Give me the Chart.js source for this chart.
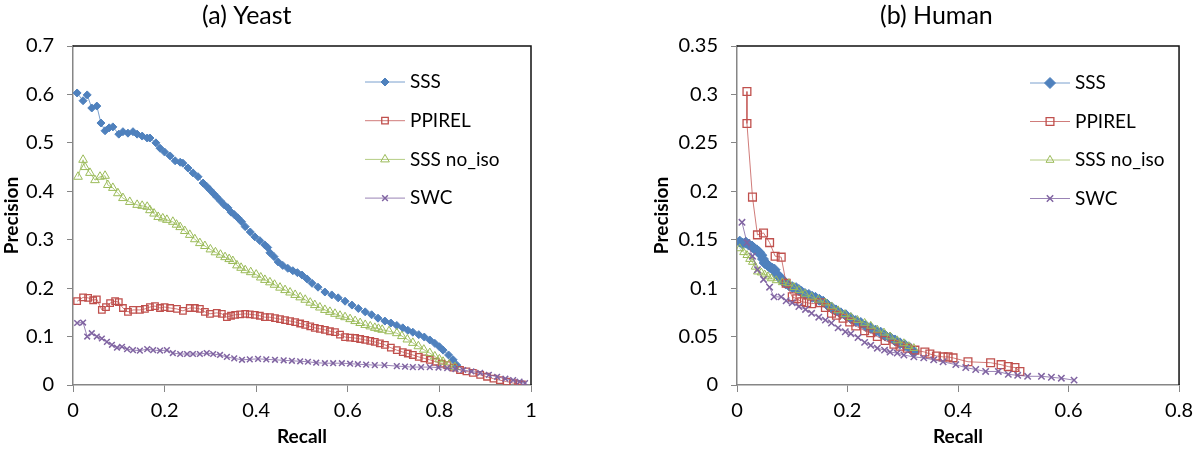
<!DOCTYPE html>
<html>
<head>
<meta charset="utf-8">
<script src="https://cdn.jsdelivr.net/npm/chart.js@4.4.1/dist/chart.umd.min.js"></script>
<style>
  html, body { margin: 0; padding: 0; background: #fff; }
  #wrap { position: relative; width: 1200px; height: 452px; }
  canvas { position: absolute; top: 0; }
</style>
</head>
<body>
<div id="wrap">
  <canvas id="yeastChart" width="600" height="452" style="left:0"></canvas>
  <canvas id="humanChart" width="600" height="452" style="left:600px"></canvas>
</div>
<script>
// ---- (a) Yeast ----
const yeastSSSRecall = [0.009,0.022,0.031,0.041,0.052,0.061,0.070,0.079,0.087,0.100,0.109,0.120,0.131,0.140,0.151,0.162,0.168,0.181,0.190,0.200,0.212,0.223,0.234,0.240,0.251,0.262,0.273,0.284,0.292,0.299,0.307,0.314,0.322,0.330,0.338,0.345,0.352,0.360,0.368,0.376,0.387,0.397,0.408,0.419,0.425,0.430,0.439,0.448,0.458,0.469,0.480,0.490,0.500,0.511,0.522,0.535,0.550,0.565,0.579,0.594,0.609,0.623,0.638,0.652,0.666,0.681,0.694,0.707,0.720,0.731,0.742,0.755,0.767,0.779,0.790,0.800,0.808,0.820,0.830,0.838];
const yeastSSSPrec   = [0.603,0.587,0.599,0.572,0.576,0.541,0.525,0.531,0.533,0.518,0.523,0.520,0.523,0.518,0.514,0.510,0.510,0.500,0.489,0.481,0.473,0.463,0.460,0.458,0.448,0.438,0.430,0.417,0.410,0.403,0.395,0.388,0.380,0.372,0.366,0.357,0.352,0.345,0.337,0.327,0.316,0.306,0.298,0.289,0.284,0.273,0.265,0.254,0.247,0.241,0.236,0.232,0.227,0.219,0.210,0.202,0.192,0.186,0.180,0.173,0.165,0.158,0.151,0.145,0.138,0.132,0.128,0.123,0.118,0.113,0.109,0.104,0.099,0.093,0.086,0.079,0.072,0.062,0.052,0.041];

const yeastPPIRecall = [0.009,0.022,0.033,0.044,0.052,0.063,0.072,0.081,0.092,0.100,0.109,0.120,0.131,0.146,0.157,0.168,0.179,0.190,0.200,0.212,0.227,0.240,0.255,0.266,0.277,0.288,0.299,0.314,0.325,0.336,
    0.345,0.354,0.365,0.376,0.386,0.397,0.408,0.419,0.430,0.441,0.452,0.463,0.474,0.485,0.496,0.507,0.518,0.528,0.539,0.550,0.561,0.572,0.583,0.594,0.605,0.616,0.627,0.638,0.649,0.659,
    0.670,0.681,0.694,0.707,0.720,0.731,0.742,0.755,0.767,0.779,0.792,0.805,0.817,0.831,0.845,0.859,0.873,0.889,0.904,0.918,0.932,0.947,0.961,0.972,0.980];
const yeastPPIPrec   = [0.173,0.181,0.180,0.175,0.177,0.155,0.161,0.169,0.173,0.171,0.159,0.151,0.155,0.155,0.157,0.161,0.163,0.159,0.161,0.159,0.157,0.153,0.159,0.159,0.157,0.151,0.147,0.149,0.147,0.140,
    0.143,0.145,0.146,0.147,0.146,0.145,0.143,0.140,0.140,0.138,0.136,0.134,0.132,0.130,0.127,0.124,0.121,0.118,0.116,0.114,0.111,0.109,0.104,0.099,0.098,0.097,0.095,0.093,0.091,0.089,
    0.086,0.083,0.077,0.072,0.068,0.065,0.062,0.058,0.055,0.052,0.048,0.044,0.041,0.036,0.031,0.028,0.025,0.021,0.017,0.013,0.010,0.007,0.004,0.002,0.001];

const yeastNoIsoRecall = [0.011,0.022,0.026,0.037,0.048,0.059,0.070,0.076,0.087,0.098,0.109,0.124,0.140,0.151,0.162,0.168,0.177,0.186,0.196,0.205,0.218,0.226,0.234,0.244,0.255,0.266,0.277,0.288,0.300,0.311,0.322,0.332,0.341,0.349,0.358,0.367,0.376,0.388,0.400,0.410,0.419,0.430,0.440,0.452,0.463,0.474,0.485,0.496,0.507,0.518,0.528,0.539,0.550,0.561,0.572,0.583,0.594,0.605,0.616,0.627,0.638,0.649,0.659,0.667,0.675,0.690,0.707,0.718,0.730,0.742,0.754,0.766,0.779,0.790,0.800,0.808,0.821,0.834];
const yeastNoIsoPrec   = [0.430,0.465,0.450,0.438,0.423,0.430,0.432,0.413,0.407,0.396,0.386,0.378,0.372,0.370,0.368,0.361,0.354,0.347,0.344,0.341,0.337,0.331,0.326,0.318,0.310,0.301,0.293,0.287,0.280,0.274,0.269,0.264,0.260,0.256,0.247,0.242,0.237,0.233,0.228,0.222,0.217,0.212,0.207,0.201,0.196,0.191,0.186,0.181,0.176,0.170,0.165,0.160,0.155,0.151,0.147,0.143,0.140,0.136,0.132,0.128,0.124,0.121,0.118,0.116,0.114,0.111,0.107,0.101,0.094,0.087,0.080,0.073,0.066,0.059,0.053,0.048,0.042,0.037];

const yeastSWCRecall = [0.009,0.022,0.031,0.041,0.052,0.063,0.074,0.085,0.096,0.107,0.118,0.131,0.146,0.162,0.175,0.190,0.205,0.218,0.234,0.249,0.262,0.277,0.292,0.306,0.321,0.336,0.352,0.369,0.386,0.404,0.422,0.441,0.460,0.478,0.496,0.513,0.531,0.550,0.568,0.587,0.605,0.622,0.640,0.659,0.680,0.707,0.725,0.742,0.760,0.779,0.798,0.817,0.835,0.852,0.870,0.889,0.908,0.926,0.944,0.961,0.975,0.987];
const yeastSWCPrec   = [0.128,0.129,0.100,0.107,0.100,0.096,0.089,0.083,0.077,0.079,0.074,0.072,0.071,0.074,0.072,0.071,0.072,0.066,0.064,0.064,0.064,0.064,0.066,0.064,0.062,0.058,0.055,0.052,0.053,0.054,0.053,0.052,0.051,0.050,0.049,0.048,0.046,0.045,0.045,0.045,0.044,0.043,0.042,0.041,0.041,0.039,0.038,0.037,0.037,0.037,0.036,0.035,0.033,0.031,0.028,0.025,0.021,0.017,0.013,0.010,0.007,0.004];

// ---- (b) Human ----
const humanSSSRecall = [0.005,0.010,0.016,0.021,0.027,0.031,0.036,0.040,0.044,0.047,0.050,0.055,0.059,0.064,0.068,0.073,0.078,0.082,0.088,0.094,0.100,0.107,0.112,0.117,0.123,0.130,0.136,0.142,0.149,0.156,0.163,0.171,0.179,0.188,0.197,0.206,0.215,0.224,0.233,0.242,0.251,0.260,0.268,0.277,0.286,0.295,0.304,0.313,0.320];
const humanSSSPrec   = [0.148,0.146,0.147,0.145,0.143,0.141,0.139,0.137,0.134,0.130,0.126,0.124,0.122,0.120,0.119,0.114,0.111,0.108,0.105,0.103,0.101,0.100,0.098,0.096,0.094,0.093,0.091,0.090,0.088,0.086,0.083,0.080,0.077,0.074,0.072,0.069,0.066,0.064,0.061,0.059,0.056,0.054,0.051,0.049,0.046,0.043,0.041,0.038,0.034];

const humanPPIRecall = [0.018,0.018,0.028,0.037,0.048,0.059,0.069,0.080,0.089,0.100,0.108,0.117,0.126,0.135,0.151,0.160,0.171,0.180,0.192,0.204,0.215,0.231,0.242,0.254,0.268,0.284,0.295,0.308,0.322,0.340,0.349,0.361,0.373,0.382,0.391,0.418,0.459,0.478,0.491,0.503,0.512];
const humanPPIPrec   = [0.303,0.270,0.194,0.155,0.157,0.147,0.133,0.132,0.105,0.091,0.089,0.086,0.085,0.084,0.085,0.080,0.074,0.072,0.069,0.065,0.061,0.056,0.054,0.050,0.046,0.042,0.040,0.038,0.036,0.034,0.032,0.030,0.029,0.029,0.028,0.024,0.023,0.021,0.019,0.018,0.014];

const humanNoIsoRecall = [0.005,0.012,0.018,0.023,0.028,0.033,0.037,0.044,0.050,0.056,0.062,0.071,0.082,0.094,0.103,0.112,0.123,0.135,0.147,0.160,0.171,0.183,0.195,0.206,0.218,0.231,0.242,0.254,0.266,0.277,0.290,0.302,0.311,0.320];
const humanNoIsoPrec   = [0.141,0.137,0.134,0.130,0.127,0.122,0.117,0.116,0.114,0.112,0.110,0.108,0.106,0.105,0.101,0.098,0.094,0.091,0.088,0.085,0.081,0.077,0.073,0.070,0.067,0.064,0.061,0.057,0.054,0.050,0.046,0.043,0.040,0.038];

const humanSWCRecall = [0.009,0.018,0.028,0.037,0.048,0.059,0.067,0.080,0.089,0.100,0.112,0.124,0.135,0.148,0.160,0.171,0.183,0.196,0.206,0.219,0.231,0.242,0.254,0.267,0.277,0.290,0.302,0.320,0.338,0.356,0.373,0.396,0.414,0.432,0.450,0.473,0.491,0.508,0.526,0.551,0.569,0.587,0.610];
const humanSWCPrec   = [0.168,0.147,0.133,0.119,0.109,0.101,0.091,0.091,0.087,0.085,0.081,0.078,0.074,0.070,0.067,0.064,0.059,0.055,0.053,0.049,0.044,0.041,0.038,0.036,0.034,0.033,0.031,0.029,0.028,0.026,0.024,0.021,0.018,0.016,0.014,0.014,0.011,0.010,0.009,0.009,0.008,0.007,0.005];

const seriesNames = ['SSS', 'PPIREL', 'SSS no_iso', 'SWC'];
const yeastTicksY = [0, 0.1, 0.2, 0.3, 0.4, 0.5, 0.6, 0.7];
const humanTicksY = [0, 0.05, 0.1, 0.15, 0.2, 0.25, 0.3, 0.35];

const FONT = 'Lato, "Open Sans", sans-serif';

function pts(xs, ys) {
    return xs.map((x, i) => ({ x: x, y: ys[i] }));
}

// plot-area frame: black top and right edge, like the Excel original
const framePlugin = {
    id: 'frame',
    afterDraw(chart) {
        const { ctx, chartArea: a } = chart;
        ctx.save();
        ctx.strokeStyle = '#111';
        ctx.lineWidth = 1.5;
        ctx.beginPath();
        ctx.moveTo(a.left, a.top);
        ctx.lineTo(a.right, a.top);
        ctx.lineTo(a.right, a.bottom);
        ctx.stroke();
        ctx.restore();
    }
};

// legend drawn inside the plot area
const innerLegend = {
    id: 'innerLegend',
    afterDraw(chart, args, opts) {
        const ctx = chart.ctx;
        ctx.save();
        chart.data.datasets.forEach((ds, i) => {
            const y = opts.y + i * opts.dy;
            ctx.strokeStyle = ds.borderColor;
            ctx.lineWidth = 1;
            ctx.beginPath();
            ctx.moveTo(opts.x, y);
            ctx.lineTo(opts.x + opts.len, y);
            ctx.stroke();
            ctx.strokeStyle = ds.pointBorderColor;
            ctx.fillStyle = ds.pointBackgroundColor;
            ctx.lineWidth = ds.pointBorderWidth;
            Chart.helpers.drawPoint(ctx, {
                pointStyle: ds.pointStyle, radius: ds.pointRadius, rotation: 0,
                borderWidth: ds.pointBorderWidth
            }, opts.x + opts.len / 2, y);
            ctx.fillStyle = '#000';
            ctx.font = '19px ' + FONT;
            ctx.textAlign = 'left';
            ctx.textBaseline = 'middle';
            ctx.fillText(ds.label, opts.x + opts.len + 5, y);
        });
        ctx.restore();
    }
};

const panelTitle = {
    id: 'panelTitle',
    afterDraw(chart, args, opts) {
        const ctx = chart.ctx;
        ctx.save();
        ctx.fillStyle = '#000';
        ctx.font = '25px ' + FONT;
        ctx.textAlign = 'left';
        ctx.textBaseline = 'middle';
        ctx.fillText(opts.text, opts.x, opts.y);
        ctx.restore();
    }
};

function makeDatasets(sets, big) {
    const styles = [
        { color: '#4F81BD', line: 'rgba(79,129,189,0.75)', style: 'rectRot', r: big ? 5.5 : 4, fill: '#4F81BD', bw: 1 },
        { color: '#C0504D', line: 'rgba(192,80,77,0.75)', style: 'rect', r: big ? 5.5 : 4.6, fill: 'rgba(0,0,0,0)', bw: 1.3 },
        { color: '#9BBB59', line: 'rgba(155,187,89,0.75)', style: 'triangle', r: big ? 4.6 : 5, fill: 'rgba(0,0,0,0)', bw: 1 },
        { color: '#8064A2', line: 'rgba(128,100,162,0.8)', style: 'crossRot', r: big ? 4.5 : 4, fill: '#8064A2', bw: 1.5 }
    ];
    return sets.map((s, i) => ({
        label: seriesNames[i],
        data: pts(s[0], s[1]),
        showLine: true,
        borderColor: styles[i].line,
        borderWidth: 1,
        pointStyle: styles[i].style,
        pointRadius: styles[i].r,
        pointBorderColor: styles[i].color,
        pointBackgroundColor: styles[i].fill,
        pointBorderWidth: styles[i].bw,
        tension: 0,
        order: 4 - i
    }));
}

function fmt(v) {
    return String(+v.toFixed(2));
}

function makeOptions(cfg) {
    return {
        responsive: false,
        animation: false,
        layout: { padding: cfg.padding },
        plugins: {
            legend: { display: false },
            tooltip: { enabled: false },
            innerLegend: cfg.legend,
            panelTitle: cfg.title
        },
        scales: {
            x: {
                type: 'linear',
                min: 0,
                max: cfg.xMax,
                ticks: { stepSize: 0.2, color: '#000', font: { family: FONT, size: 20 }, padding: 7, callback: fmt },
                grid: { drawOnChartArea: false, drawTicks: true, tickLength: 7, color: '#868686' },
                border: { color: '#868686', width: 1.5 },
                title: { display: true, text: 'Recall', color: '#000', font: { family: FONT, size: 19, weight: 'bold' }, padding: { top: 0, bottom: 4 } },
                afterFit(s) { s.height = 67; }
            },
            y: {
                type: 'linear',
                min: 0,
                max: cfg.yTicks[cfg.yTicks.length - 1],
                afterBuildTicks(s) { s.ticks = cfg.yTicks.map(v => ({ value: v })); },
                ticks: { color: '#000', font: { family: FONT, size: 20 }, padding: 13, callback: fmt },
                grid: { drawOnChartArea: false, drawTicks: true, tickLength: 6, color: '#868686' },
                border: { color: '#868686', width: 1.5 },
                title: { display: true, text: 'Precision', color: '#000', font: { family: FONT, size: 19, weight: 'bold' }, padding: { top: 0, bottom: 0 } },
                afterFit(s) { s.width = cfg.yWidth; }
            }
        }
    };
}

new Chart(document.getElementById('yeastChart'), {
    type: 'scatter',
    data: {
        datasets: makeDatasets([
            [yeastSSSRecall, yeastSSSPrec],
            [yeastPPIRecall, yeastPPIPrec],
            [yeastNoIsoRecall, yeastNoIsoPrec],
            [yeastSWCRecall, yeastSWCPrec]
        ], false)
    },
    options: makeOptions({
        padding: { top: 46, right: 69, left: 0, bottom: 0 },
        xMax: 1,
        yTicks: yeastTicksY,
        yWidth: 73,
        legend: { x: 365, y: 82, dy: 38.7, len: 40 },
        title: { text: '(a) Yeast', x: 202, y: 16 }
    }),
    plugins: [framePlugin, innerLegend, panelTitle]
});

new Chart(document.getElementById('humanChart'), {
    type: 'scatter',
    data: {
        datasets: makeDatasets([
            [humanSSSRecall, humanSSSPrec],
            [humanPPIRecall, humanPPIPrec],
            [humanNoIsoRecall, humanNoIsoPrec],
            [humanSWCRecall, humanSWCPrec]
        ], true)
    },
    options: makeOptions({
        padding: { top: 46, right: 13, left: 50, bottom: 0 },
        xMax: 0.8,
        yTicks: humanTicksY,
        yWidth: 87,
        legend: { x: 430, y: 83, dy: 38.5, len: 40 },
        title: { text: '(b) Human', x: 280, y: 16 }
    }),
    plugins: [framePlugin, innerLegend, panelTitle]
});
</script>
</body>
</html>
